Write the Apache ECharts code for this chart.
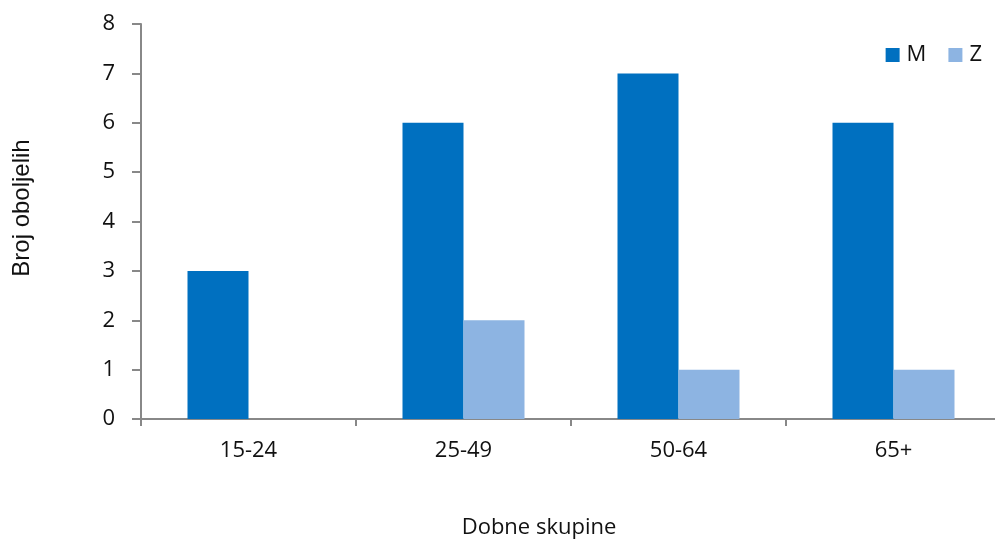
<!DOCTYPE html>
<html><head><meta charset="utf-8">
<script src="https://cdn.jsdelivr.net/npm/echarts@6/dist/echarts.min.js"></script>
<style>html,body{margin:0;padding:0;background:#fff}#c{width:995px;height:542px}</style>
</head><body><div id="c"></div>
<script>
const categories = ['15-24', '25-49', '50-64', '65+'];
const seriesM = [3, 6, 7, 6];
const seriesZ = [0, 2, 1, 1];
const yTicks = [0, 1, 2, 3, 4, 5, 6, 7, 8];
const xTitle = 'Dobne skupine';
const yTitle = 'Broj oboljelih';

const font = '"Open Sans", "Noto Sans", sans-serif';
const chart = echarts.init(document.getElementById('c'));
chart.setOption({
  animation: false,
  backgroundColor: '#fff',
  grid: { left: 141, top: 24, width: 860, height: 395, containLabel: false, outerBoundsMode: 'none' },
  legend: {
    right: 8, top: 39, itemWidth: 14, itemHeight: 14, itemGap: 22,
    icon: 'rect',
    textStyle: { fontFamily: font, fontSize: 22, color: '#111', padding: [0, 0, 0, 2] },
    data: ['M', 'Z']
  },
  graphic: [
    { type: 'text', x: 22, y: 208, rotation: Math.PI / 2,
      style: { text: yTitle, fill: '#111', font: '24px "Liberation Sans", Arial, sans-serif', align: 'center', verticalAlign: 'middle' } },
    { type: 'text', x: 539, y: 528,
      style: { text: xTitle, fill: '#111', font: '22px "Open Sans", sans-serif', align: 'center', verticalAlign: 'middle' } }
  ],
  xAxis: {
    type: 'category', data: categories,
    axisLine: { lineStyle: { color: '#888', width: 2 } },
    axisTick: { show: true, length: 7, lineStyle: { color: '#888', width: 2 } },
    axisLabel: { fontFamily: font, fontSize: 22, color: '#111', margin: 21 }
  },
  yAxis: {
    type: 'value', min: yTicks[0], max: yTicks[yTicks.length - 1], interval: 1,
    axisLine: { show: true, lineStyle: { color: '#888', width: 2 } },
    axisTick: { show: true, length: 9, lineStyle: { color: '#888', width: 2 } },
    axisLabel: { fontFamily: font, fontSize: 22, color: '#111', margin: 26 },
    splitLine: { show: false }
  },
  series: [
    { name: 'M', type: 'bar', data: seriesM, barWidth: 61, barGap: '0%', itemStyle: { color: '#0070C0' } },
    { name: 'Z', type: 'bar', data: seriesZ, barWidth: 61, barGap: '0%', itemStyle: { color: '#8DB4E2' } }
  ]
});
</script></body></html>
